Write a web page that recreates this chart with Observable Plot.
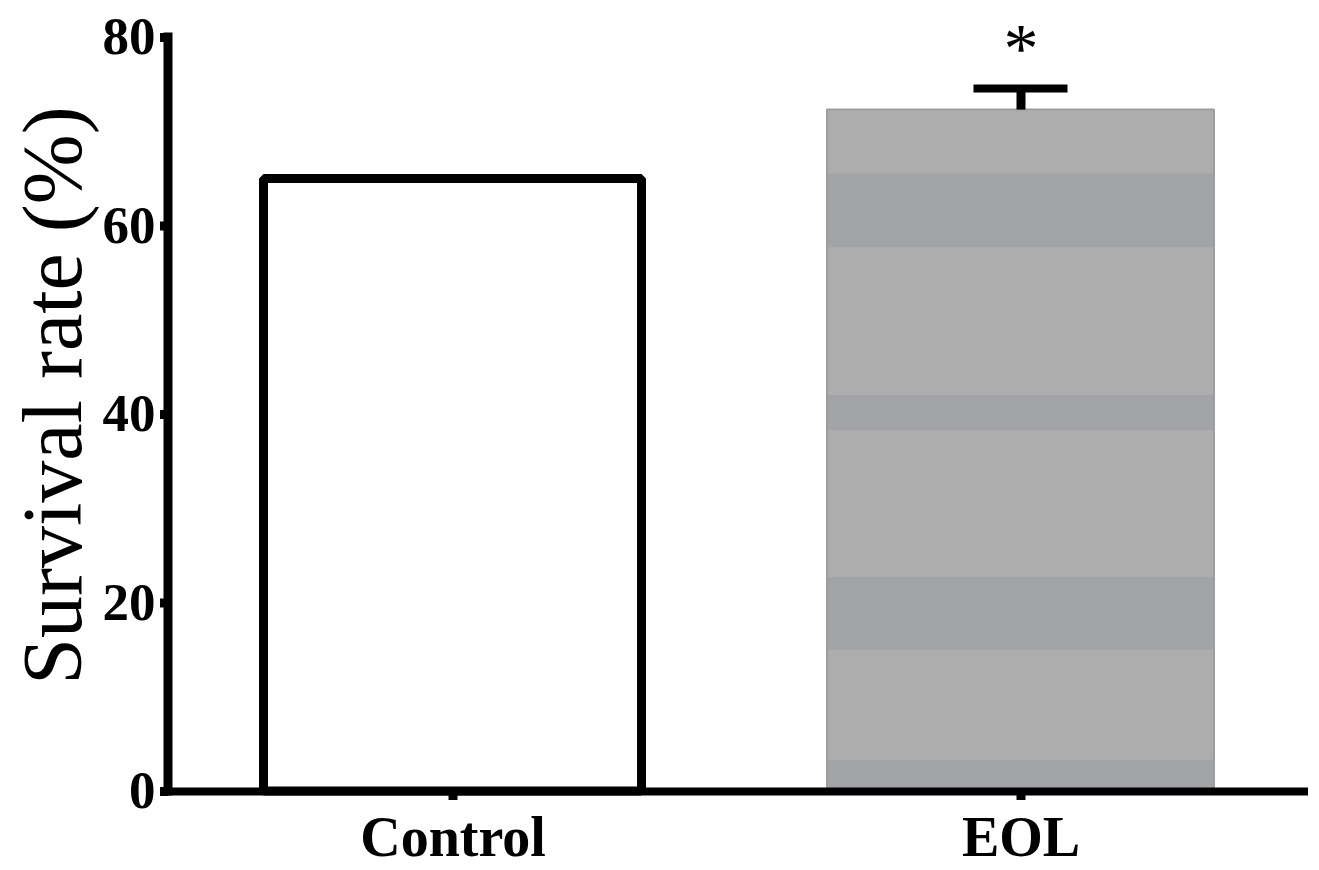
<!DOCTYPE html>
<html>
<head>
<meta charset="utf-8">
<script src="https://cdn.jsdelivr.net/npm/d3@7"></script>
<script src="https://cdn.jsdelivr.net/npm/@observablehq/plot@0.6"></script>
<style>
  html, body { margin: 0; padding: 0; background: #ffffff; }
  #chart { width: 1319px; height: 870px; }
</style>
</head>
<body>
<div id="chart"></div>
<script>
// ---- data ----
const categories = ["Control", "EOL"];
const survival = [65.0, 72.3];         // mean survival rate (%)
const sem = [0, 2.3];                  // error (upper) in %
const significance = ["", "*"];
const yTicks = [0, 20, 40, 60, 80];
// darker horizontal stripes seen inside the EOL bar (in % units)
const stripeLow = [0, 15.0, 38.3, 57.7];
const stripeHigh = [3.3, 22.7, 42.0, 65.5];

const rows = categories.map((c, i) => ({group: c, value: survival[i], err: sem[i], sig: significance[i]}));
const controlRows = rows.filter(d => d.group === "Control");
const eolRows = rows.filter(d => d.group === "EOL");
const stripes = stripeLow.map((lo, i) => ({group: "EOL", lo, hi: stripeHigh[i]}));

const serif = "'Liberation Serif', 'Times New Roman', Times, serif";

// y-axis domain line drawn from the scales
const yAxisLine = (index, scales, values, dimensions) => {
  const ns = "http://www.w3.org/2000/svg";
  const line = document.createElementNS(ns, "line");
  const x = dimensions.marginLeft;
  line.setAttribute("x1", x);
  line.setAttribute("x2", x);
  line.setAttribute("y1", scales.y(yTicks[yTicks.length - 1]));
  line.setAttribute("y2", scales.y(0));
  line.setAttribute("stroke", "black");
  line.setAttribute("stroke-width", 9);
  line.setAttribute("stroke-linecap", "square");
  return line;
};

const chart = Plot.plot({
  width: 1319,
  height: 870,
  marginTop: 37,
  marginBottom: 79,
  marginLeft: 168,
  marginRight: 15,
  style: {fontFamily: serif, background: "white", color: "black"},
  x: {domain: categories, paddingInner: 0.326, paddingOuter: 0.163},
  y: {domain: [0, 80]},
  marks: [
    // Control bar: white with thick black outline
    Plot.barY(controlRows, {x: "group", y: "value", fill: "white", stroke: "black", strokeWidth: 9, strokeLinejoin: "bevel", insetLeft: 2.5, insetRight: 2.5}),
    // EOL bar: grey fill
    Plot.barY(eolRows, {x: "group", y: "value", fill: "#adadad", insetLeft: -2, insetRight: -2}),
    Plot.barY(stripes, {x: "group", y1: "lo", y2: "hi", fill: "#a2a3a7", insetLeft: -2, insetRight: -2}),
    Plot.barY(eolRows, {x: "group", y: "value", fill: "none", stroke: "#9c9da1", strokeWidth: 2, strokeLinejoin: "bevel", insetLeft: -2, insetRight: -2}),
    // error bar
    Plot.ruleX(eolRows, {x: "group", y1: "value", y2: d => d.value + d.err, stroke: "black", strokeWidth: 9}),
    Plot.tickY(eolRows, {x: "group", y: d => d.value + d.err, stroke: "black", strokeWidth: 8, insetLeft: 144.5, insetRight: 144.5}),
    // significance star
    Plot.text(eolRows, {x: "group", y: d => d.value + d.err, text: "sig", fontSize: 70, fontFamily: serif, lineAnchor: "bottom", dy: -16, fill: "black"}),
    // axes
    Plot.axisY({ticks: yTicks, tickFormat: d => String(d), tickSize: 8, tickPadding: 5, strokeWidth: 9, fontSize: 53, fontWeight: "bold", fontFamily: serif, label: null}),
    Plot.axisX({tickSize: 9, tickPadding: 16, strokeWidth: 9, fontSize: 56, fontWeight: "bold", fontFamily: serif, label: null}),
    Plot.ruleY([0], {stroke: "black", strokeWidth: 8, strokeLinecap: "square"}),
    yAxisLine,
    // y-axis title
    Plot.text(["Survival rate (%)"], {frameAnchor: "left", rotate: -90, textAnchor: "middle", lineAnchor: "bottom", dx: -88, dy: -19, fontSize: 84, fontFamily: serif, fill: "black"})
  ]
});
document.getElementById("chart").appendChild(chart);
</script>
</body>
</html>
